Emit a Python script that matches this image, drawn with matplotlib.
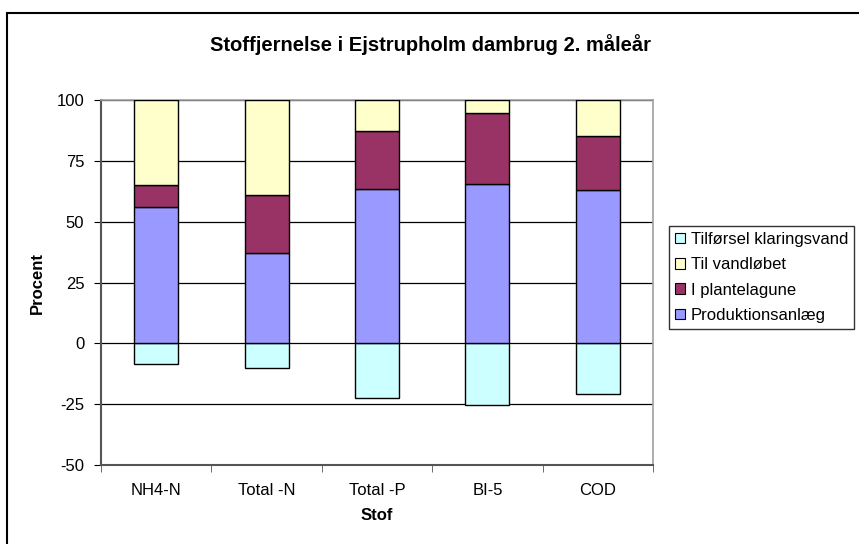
import numpy as np
import matplotlib
matplotlib.use("Agg")
import matplotlib.pyplot as plt
from matplotlib.patches import Rectangle, Patch

plt.rcParams['font.family'] = ['Liberation Sans', 'DejaVu Sans']
plt.rcParams['axes.unicode_minus'] = False

# data (procent)
stoffer = ['NH4-N', 'Total -N', 'Total -P', 'BI-5', 'COD']
produktion = [56.1, 37.0, 63.6, 65.6, 63.2]
plantelagune = [9.1, 23.9, 23.9, 29.0, 22.3]
vandloebet = [34.8, 39.1, 12.5, 5.4, 14.5]
klaringsvand = [-8.5, -10.2, -22.5, -25.5, -21.0]

navne = ['Tilførsel klaringsvand', 'Til vandløbet', 'I plantelagune', 'Produktionsanlæg']
farver = ['#CCFFFF', '#FFFFCC', '#993366', '#9999FF']

fig = plt.figure(figsize=(8.59, 5.44), dpi=100)
ax = fig.add_axes([101 / 859, 1 - 465 / 544, 552 / 859, 364.7 / 544])

x = np.arange(len(stoffer))
w = 0.4
kw = dict(width=w, edgecolor='black', linewidth=1.0, zorder=3)
ax.bar(x, klaringsvand, color=farver[0], **kw)
ax.bar(x, produktion, color=farver[3], **kw)
ax.bar(x, plantelagune, bottom=produktion, color=farver[2], **kw)
bund = np.array(produktion) + np.array(plantelagune)
ax.bar(x, vandloebet, bottom=bund, color=farver[1], **kw)

ax.set_xlim(-0.5, len(stoffer) - 0.5)
ax.set_ylim(-50, 100)
ax.set_yticks([-50, -25, 0, 25, 50, 75, 100])
ax.yaxis.grid(True, color='black', linewidth=0.9, zorder=0)
ax.set_axisbelow(True)

ax.set_xticks(x)
ax.set_xticklabels(stoffer, fontsize=12)
ax.set_xticks(np.arange(len(stoffer) + 1) - 0.5, minor=True)
ax.tick_params(axis='x', which='major', length=0, pad=13)
ax.tick_params(axis='x', which='minor', length=5, color='#555555')
ax.tick_params(axis='y', labelsize=12, length=5, color='black', pad=7)

for s in ['top', 'right']:
    ax.spines[s].set_color('#a0a0a0')
    ax.spines[s].set_linewidth(1.2)
for s in ['left', 'bottom']:
    ax.spines[s].set_color('#555555')
    ax.spines[s].set_linewidth(1.5)

ax.set_xlabel('Stof', fontsize=12, fontweight='bold')
ax.xaxis.set_label_coords(0.5, (465 - 515) / 364.7)
ax.set_ylabel('Procent', fontsize=12, fontweight='bold')
ax.yaxis.set_label_coords((37 - 101) / 552, 0.5)
ax.yaxis.label.set_va('center')
ax.xaxis.label.set_va('center')
fig.text(430 / 859, 1 - 45 / 544,
         'Stoffjernelse i Ejstrupholm dambrug 2. måleår',
         ha='center', va='center', fontsize=14.5, fontweight='bold')

handles = [Patch(facecolor=c, edgecolor='black', linewidth=0.8) for c in farver]
leg = fig.legend(handles, navne, loc='upper left',
                 bbox_to_anchor=(669 / 859, 1 - 226 / 544),
                 fontsize=12, frameon=True, fancybox=False,
                 handlelength=0.6, handleheight=0.6, handletextpad=0.35,
                 labelspacing=0.62, borderpad=0.35, borderaxespad=0)
leg.get_frame().set_edgecolor('black')
leg.get_frame().set_linewidth(1.0)

# outer chart border
fig.patches.append(Rectangle((7 / 859, -0.05), 1.0, 1 - 13 / 544 + 0.05,
                             transform=fig.transFigure, fill=False,
                             edgecolor='black', linewidth=1.5))

fig.savefig('out.png', dpi=100)
